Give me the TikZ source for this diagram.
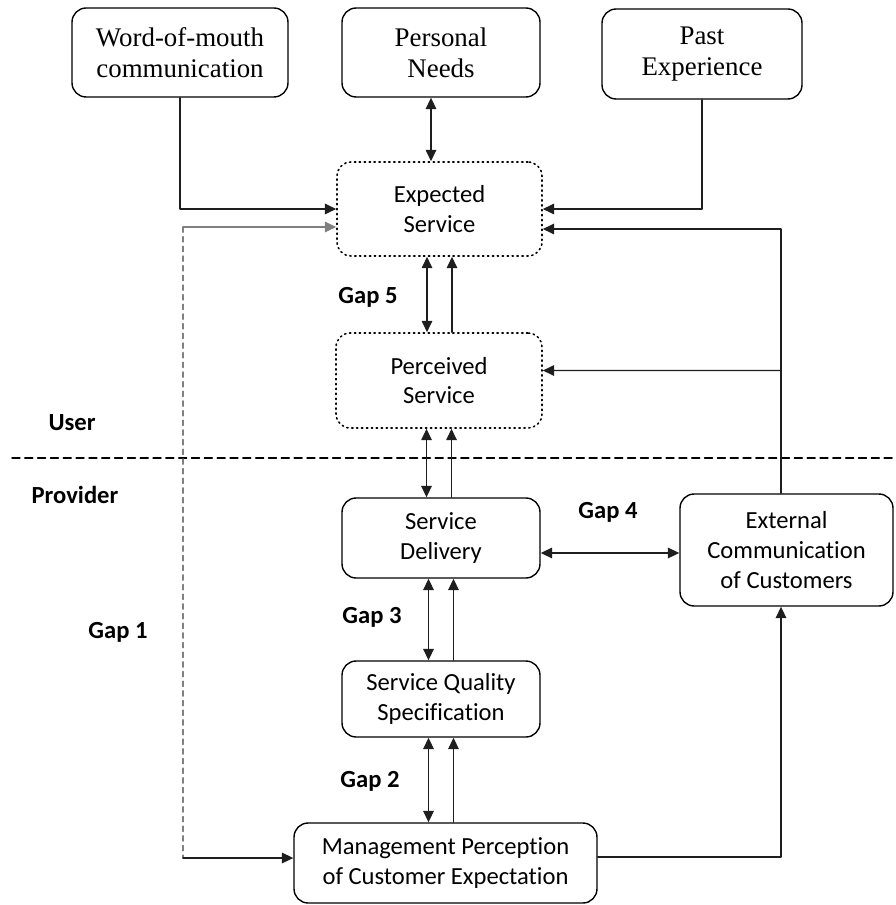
\documentclass[tikz,border=0pt]{standalone}
\usepackage{fontspec}
\setmainfont{Liberation Serif}
\newfontfamily\gapfont[Ligatures=NoCommon]{Carlito}
\usepackage{tikz}
\usetikzlibrary{arrows.meta,calc,positioning}
\definecolor{gapline}{RGB}{30,30,30}
\begin{document}
\begin{tikzpicture}[x=0.02cm,y=-0.02cm,line cap=round,line join=round,
  box/.style={draw,line width=0.8pt,rounded corners=8pt,align=center,
   font=\gapfont\fontsize{14}{17}\selectfont},
  oldbox/.style={box,font=\fontsize{15.3}{17.5}\selectfont},
  dotbox/.style={box,dotted,line width=0.9pt},
  lbl/.style={font=\gapfont\bfseries\fontsize{14}{16}\selectfont},
  arr/.style={line width=0.8pt,draw=gapline,-{Triangle[length=6.5pt,width=6pt]}},
  darr/.style={line width=0.8pt,draw=gapline,{Triangle[length=6.5pt,width=6pt]}-{Triangle[length=6.5pt,width=6pt]}}]
 \useasboundingbox (0,0) rectangle (895,905);
 \node[oldbox,minimum width=4.32cm,minimum height=1.78cm] (wom) at (180,52.5) {Word-of-mouth\\communication};
 \node[oldbox,minimum width=3.96cm,minimum height=1.78cm] (needs) at (441,52.5) {Personal\\Needs};
 \node[oldbox,minimum width=4.0cm,minimum height=1.8cm] (past) at (702,54) {Past\\Experience};
 \node[dotbox,minimum width=4.1cm,minimum height=1.88cm] (expected) at (439.5,209) {Expected\\Service};
 \node[dotbox,minimum width=4.12cm,minimum height=1.9cm] (perceived) at (439,380.5) {Perceived\\Service};
 \node[box,minimum width=3.96cm,minimum height=1.6cm] (delivery) at (441,538) {Service\\Delivery};
 \node[box,minimum width=4.26cm,minimum height=2.24cm] (extcomm) at (786.5,550) {External\\Communication\\of Customers};
 \node[box,minimum width=3.96cm,minimum height=1.52cm] (spec) at (441,699) {Service Quality\\Specification};
 \node[box,minimum width=6.06cm,minimum height=1.6cm] (mgmt) at (445.5,863) {Management Perception\\of Customer Expectation};
 \node[lbl] (gapfive) at (368,297) {Gap 5};
 \node[lbl] (gapfour) at (608,512) {Gap 4};
 \node[lbl] (gapthree) at (372,617) {Gap 3};
 \node[lbl] (gaptwo) at (370,781) {Gap 2};
 \node[lbl] (gapone) at (118,632) {Gap 1};
 \node[lbl] (user) at (72,423) {User};
 \node[lbl] (provider) at (75,495) {Provider};
 \draw[line width=0.8pt,dash pattern=on 4.5pt off 2.8pt] (12,458) -- (895,458);
 \coordinate (gonetop) at (183,227);
 \coordinate (gonebot) at (183,858);
 \coordinate (extline) at ([xshift=-0.11cm]extcomm.north);
 \draw[line width=0.8pt,gray,dash pattern=on 3pt off 2.5pt] (gonetop) -- (gonebot);
 \draw[arr,draw=gray] (gonetop) -- (gonetop -| expected.west);
 \draw[arr] (gonebot) -- (gonebot -| mgmt.west);
 \draw[arr] (wom.south) |- (expected.west);
 \draw[arr] (past.south) |- (expected.east);
 \draw[darr] ([xshift=-0.2cm]needs.south) -- ([xshift=-0.2cm]needs.south |- expected.north);
 \draw[arr] (extline) |- ([yshift=-0.4cm]expected.east);
 \draw[arr] (extline |- perceived.east) ++(0,-10) -- ([yshift=0.2cm]perceived.east);
 \foreach \up/\down in {expected/perceived,perceived/delivery,delivery/spec,spec/mgmt}{
  \draw[darr] ([xshift=-0.25cm]\up.south) -- ([xshift=-0.25cm]\up.south |- \down.north);
  \draw[arr] ([xshift=0.25cm]\up.south |- \down.north) -- ([xshift=0.25cm]\up.south);
 }
 \draw[darr] ([yshift=-0.3cm]delivery.east) -- ([yshift=-0.3cm]delivery.east -| extcomm.west);
 \draw[arr] ([yshift=0.12cm]mgmt.east) -| ([xshift=-0.11cm]extcomm.south);
\end{tikzpicture}
\end{document}
